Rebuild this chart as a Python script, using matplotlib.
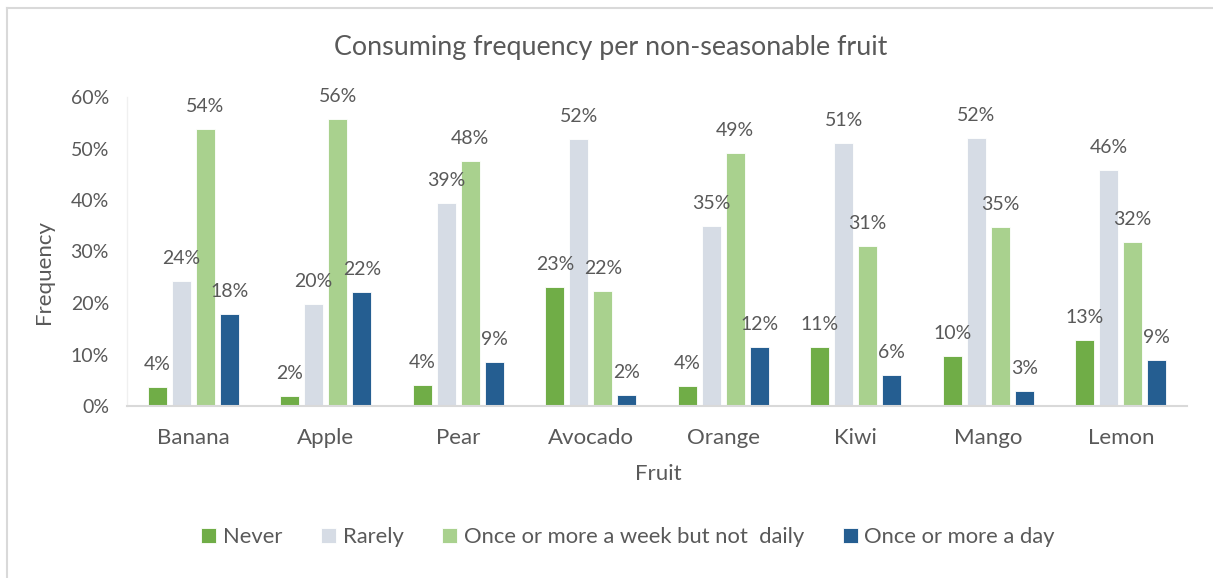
import numpy as np
import matplotlib.pyplot as plt
from matplotlib.lines import Line2D

fruits = ['Banana', 'Apple', 'Pear', 'Avocado', 'Orange', 'Kiwi', 'Mango', 'Lemon']
series = ['Never', 'Rarely', 'Once or more a week but not  daily', 'Once or more a day']
never = [3.7, 1.9, 4.1, 23.2, 3.9, 11.4, 9.8, 12.9]
rarely = [24.3, 19.8, 39.4, 51.9, 35.0, 51.1, 52.0, 45.8]
weekly = [53.8, 55.8, 47.6, 22.3, 49.2, 31.1, 34.7, 31.9]
daily = [17.9, 22.1, 8.6, 2.2, 11.5, 6.0, 3.0, 8.9]
colors = ['#70AD47', '#D6DCE5', '#A9D18E', '#255E91']

plt.rcParams['font.family'] = ['Lato', 'DejaVu Sans']
txt = '#595959'

W, H = 1213, 578
fig = plt.figure(figsize=(W / 100, H / 100), dpi=100)
ax = fig.add_axes([127 / W, 172 / H, 1060 / W, 309 / H])

x = np.arange(len(fruits))
pitch = 0.181
width = 0.143
for i, (vals, col) in enumerate(zip([never, rarely, weekly, daily], colors)):
    pos = x + (i - 1.5) * pitch
    ax.bar(pos, np.array(vals) / 100, width, color=col, edgecolor='white',
           linewidth=0.6, label=series[i])
    for px, v in zip(pos, vals):
        ax.annotate('{:.0f}%'.format(v), (px, v / 100), xytext=(0, 10),
                    textcoords='offset points', ha='center', va='bottom',
                    fontsize=14, color=txt)

ax.set_xlim(-0.5, len(fruits) - 0.5)
ax.set_ylim(0, 0.6)
yt = np.arange(0, 0.61, 0.1)
ax.set_yticks(yt)
ax.set_yticklabels(['{:.0f}%'.format(t * 100) for t in yt])
ax.set_xticks(x)
ax.set_xticklabels(fruits)
ax.tick_params(axis='y', length=0, labelsize=14, labelcolor=txt, pad=13)
ax.tick_params(axis='x', length=0, labelsize=16, labelcolor=txt, pad=16)
for s in ['top', 'right']:
    ax.spines[s].set_visible(False)
ax.spines['bottom'].set_color('#D9D9D9')
ax.spines['bottom'].set_linewidth(1.5)
ax.spines['left'].set_color('#F0F0F0')
ax.spines['left'].set_linewidth(1.0)

fig.text(658 / W, 1 - 474 / H, 'Fruit', ha='center', va='center',
         fontsize=16, color=txt)
fig.text(44 / W, 1 - 272 / H, 'Frequency', ha='center', va='center',
         rotation=90, fontsize=16, color=txt)
fig.text(611 / W, 1 - 47 / H, 'Consuming frequency per non-seasonable fruit',
         ha='center', va='center', fontsize=19.4, color=txt)

# chart border (top and left edges)
fig.add_artist(Line2D([7 / W, 7 / W], [0, 1 - 8 / H], transform=fig.transFigure,
                      color='#D9D9D9', linewidth=1.5))
fig.add_artist(Line2D([7 / W, 1], [1 - 8 / H, 1 - 8 / H], transform=fig.transFigure,
                      color='#D9D9D9', linewidth=1.5))

leg = fig.legend(loc='center', bbox_to_anchor=(628 / W, 1 - 537 / H), ncol=4,
                 frameon=False, fontsize=15.8, handlelength=0.7, handleheight=0.7,
                 handletextpad=0.3, columnspacing=1.75, borderpad=0)
for t in leg.get_texts():
    t.set_color(txt)

fig.savefig('out.png', dpi=100)
